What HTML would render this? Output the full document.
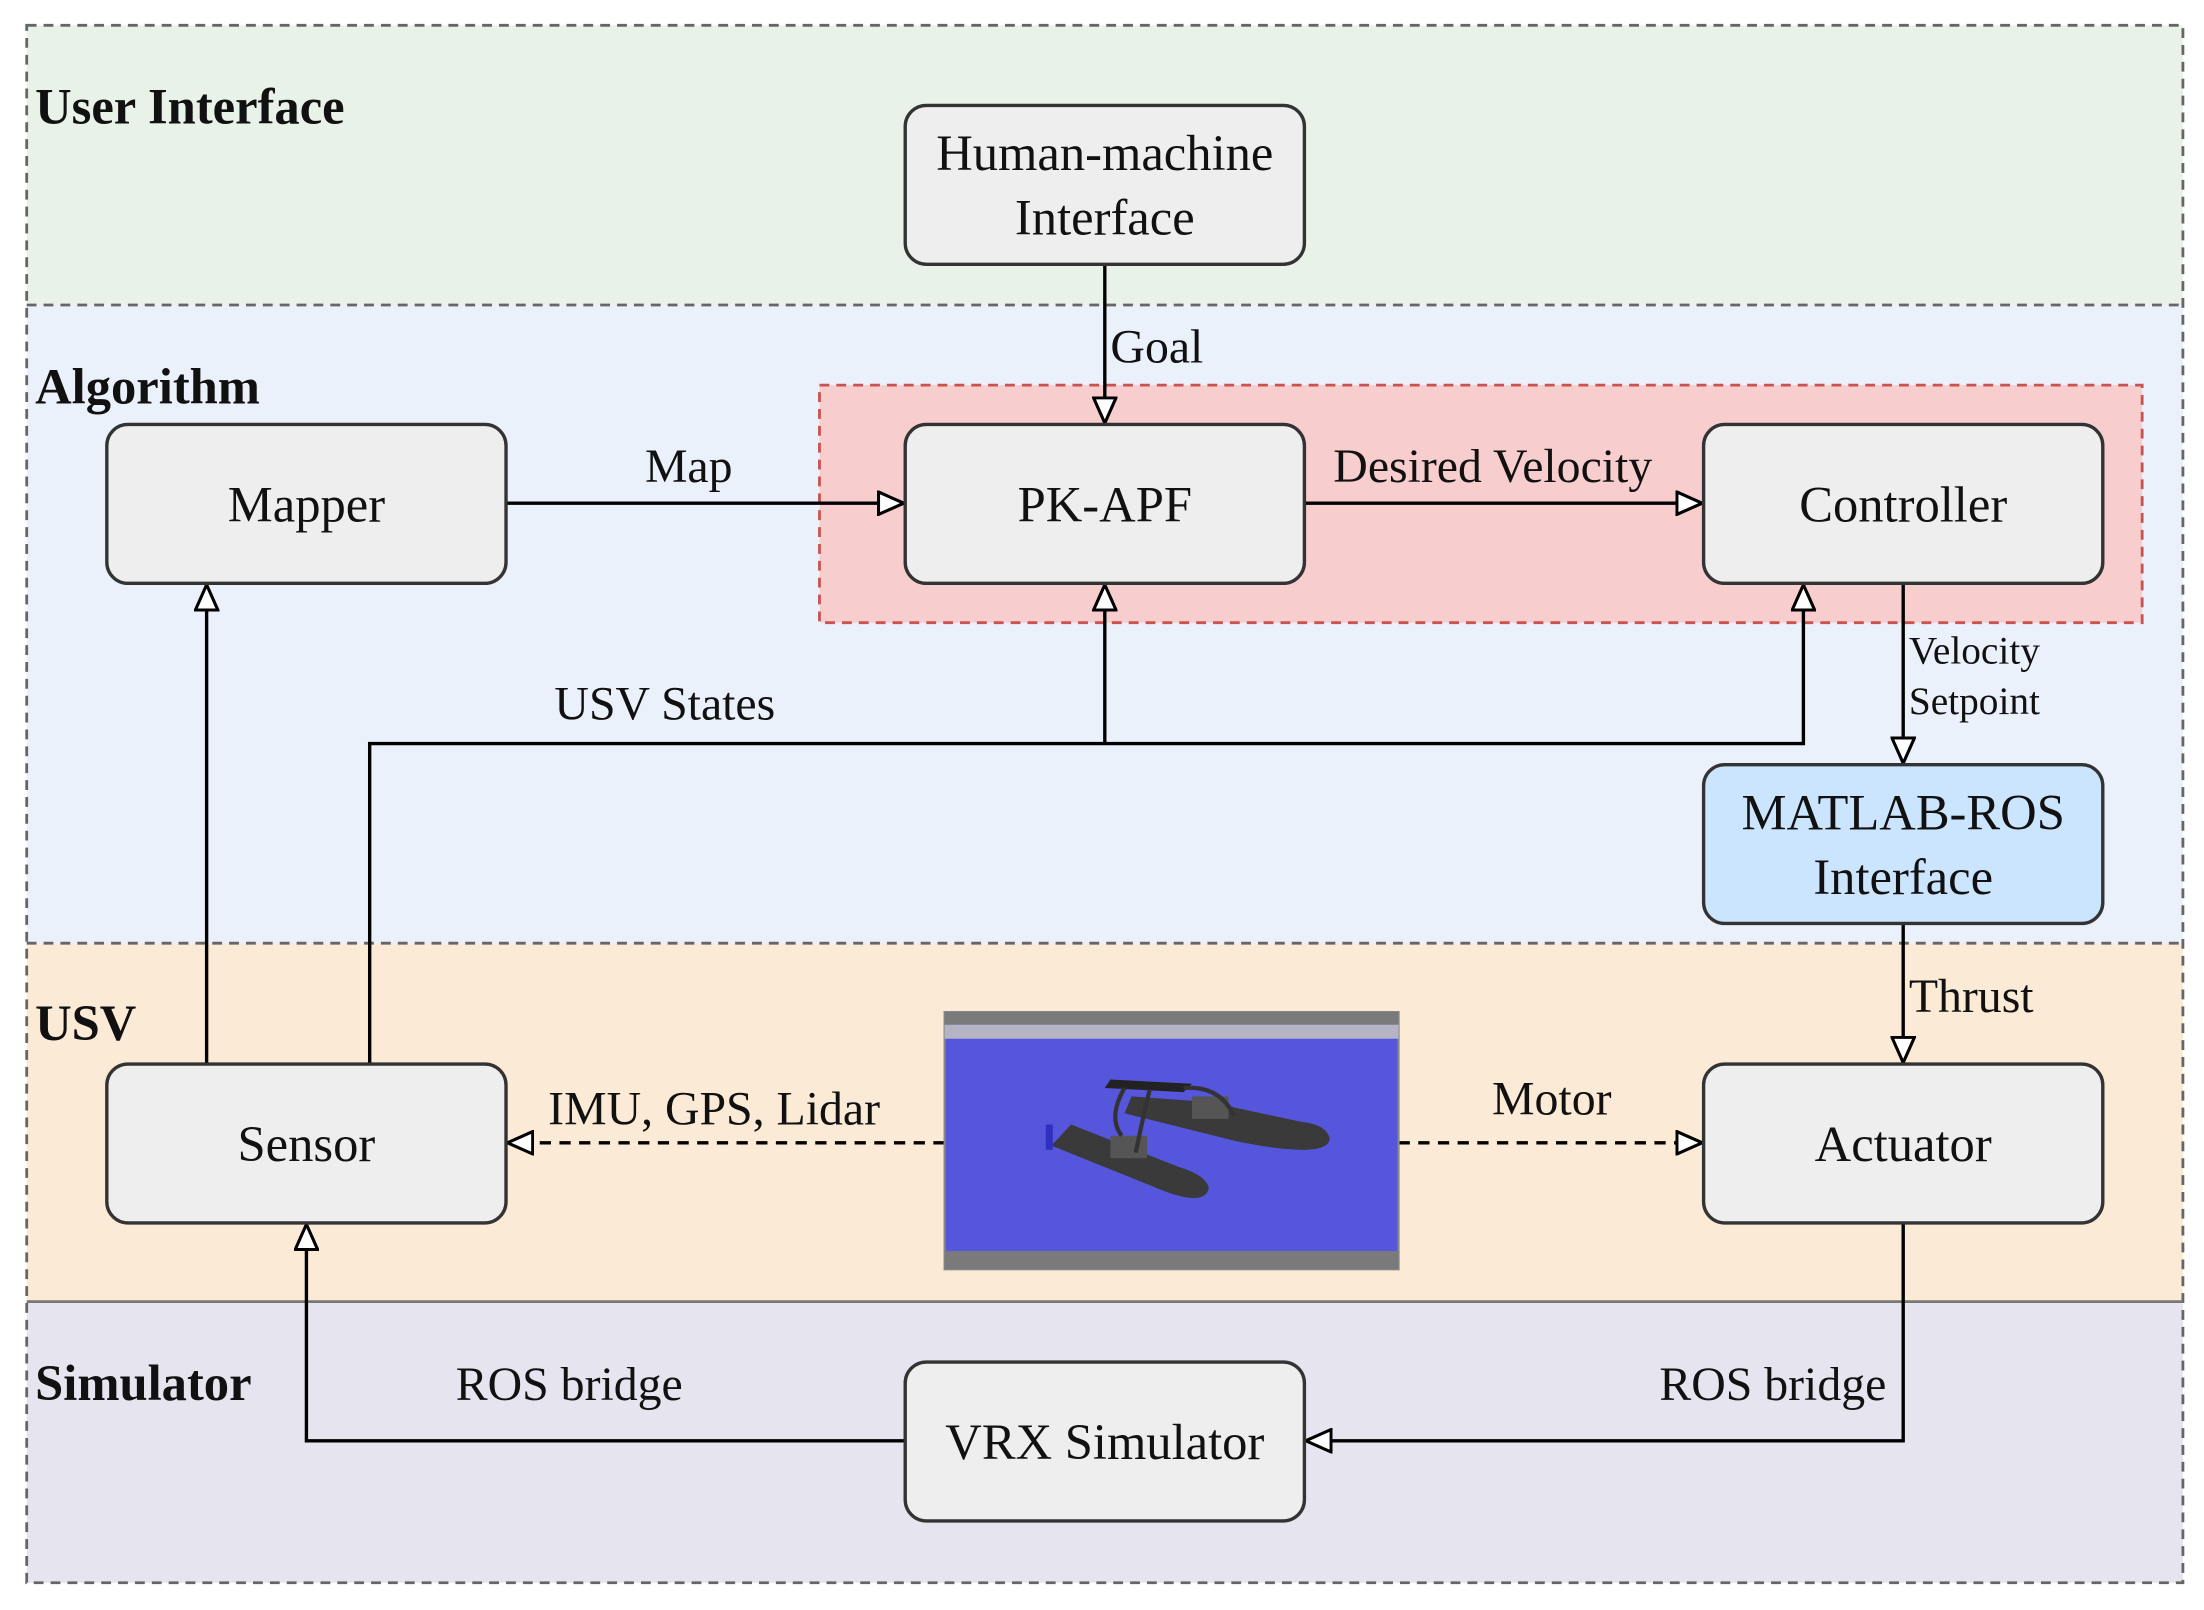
<!DOCTYPE html>
<html><head><meta charset="utf-8"><style>
html,body{margin:0;padding:0;background:#fff;}
svg{display:block;}
svg text{font-family:"Liberation Serif","Times New Roman",serif !important;fill:#111;}
</style></head><body>
<svg width="2204" height="1610" viewBox="0 0 1568 1145.4" preserveAspectRatio="none" xmlns="http://www.w3.org/2000/svg" font-family="Liberation Serif, Times New Roman, serif">
<defs>
<marker id="ah" viewBox="0 0 20 18" refX="19" refY="9" markerWidth="20" markerHeight="18" markerUnits="userSpaceOnUse" orient="auto">
<path d="M1,1 L19,9 L1,17 Z" fill="#fff" stroke="#000" stroke-width="2.2"/>
</marker>
</defs>
<rect x="19" y="18" width="1534" height="199" fill="#e9f2e8"/>
<rect x="19" y="217" width="1534" height="454" fill="#ebf1fb"/>
<rect x="19" y="671" width="1534" height="255" fill="#fbead5"/>
<rect x="19" y="926" width="1534" height="200" fill="#e6e4ef"/>
<g stroke="#666" stroke-width="2" stroke-dasharray="7,5" fill="none">
<rect x="19" y="18" width="1534" height="1108"/>
<line x1="19" y1="217" x2="1553" y2="217"/>
<line x1="19" y1="671" x2="1553" y2="671"/>
</g>
<line x1="19" y1="926" x2="1553" y2="926" stroke="#777" stroke-width="2"/>
<rect x="583" y="274" width="941" height="169" fill="#f7cdcd" stroke="#c9544f" stroke-width="2" stroke-dasharray="7,5"/>
<g font-weight="bold" font-size="36">
<text x="25" y="88">User Interface</text>
<text x="25" y="287">Algorithm</text>
<text x="25" y="740">USV</text>
<text x="25" y="996">Simulator</text>
</g>
<g stroke="#000" stroke-width="2.4" fill="none">
<line x1="786" y1="188" x2="786" y2="301" marker-end="url(#ah)"/>
<line x1="360" y1="358" x2="643" y2="358" marker-end="url(#ah)"/>
<line x1="928" y1="358" x2="1211" y2="358" marker-end="url(#ah)"/>
<line x1="1354" y1="415" x2="1354" y2="543" marker-end="url(#ah)"/>
<line x1="1354" y1="657" x2="1354" y2="756" marker-end="url(#ah)"/>
<line x1="147" y1="757" x2="147" y2="416" marker-end="url(#ah)"/>
<polyline points="263,757 263,529 1283,529 1283,416" marker-end="url(#ah)"/>
<line x1="786" y1="529" x2="786" y2="416" marker-end="url(#ah)"/>
<line x1="672" y1="813" x2="361" y2="813" stroke-dasharray="8,6" marker-end="url(#ah)"/>
<line x1="995" y1="813" x2="1211" y2="813" stroke-dasharray="8,6" marker-end="url(#ah)"/>
<polyline points="1354,870 1354,1025 929,1025" marker-end="url(#ah)"/>
<polyline points="644,1025 218,1025 218,871" marker-end="url(#ah)"/>
</g>
<g stroke="#333" stroke-width="2.4" fill="#eeeeee">
<rect x="644" y="75" width="284" height="113" rx="15"/>
<rect x="76" y="302" width="284" height="113" rx="15"/>
<rect x="644" y="302" width="284" height="113" rx="15"/>
<rect x="1212" y="302" width="284" height="113" rx="15"/>
<rect x="1212" y="544" width="284" height="113" rx="15" fill="#cce5ff"/>
<rect x="76" y="757" width="284" height="113" rx="15"/>
<rect x="1212" y="757" width="284" height="113" rx="15"/>
<rect x="644" y="969" width="284" height="113" rx="15"/>
</g>
<g font-size="36" text-anchor="middle">
<text x="786" y="121">Human-machine</text>
<text x="786" y="167">Interface</text>
<text x="218" y="371">Mapper</text>
<text x="786" y="371">PK-APF</text>
<text x="1354" y="371">Controller</text>
<text x="1354" y="590">MATLAB-ROS</text>
<text x="1354" y="636">Interface</text>
<text x="218" y="826">Sensor</text>
<text x="1354" y="826">Actuator</text>
<text x="786" y="1038">VRX Simulator</text>
</g>
<g font-size="34">
<text x="790" y="258">Goal</text>
<text x="490" y="343" text-anchor="middle">Map</text>
<text x="1062" y="343" text-anchor="middle">Desired Velocity</text>
<text x="473" y="512" text-anchor="middle">USV States</text>
<text x="1358" y="720">Thrust</text>
<text x="390" y="800">IMU, GPS, Lidar</text>
<text x="1104" y="793" text-anchor="middle">Motor</text>
<text x="405" y="996" text-anchor="middle">ROS bridge</text>
<text x="1342" y="996" text-anchor="end">ROS bridge</text>
</g>
<g font-size="28">
<text x="1358" y="472">Velocity</text>
<text x="1358" y="508">Setpoint</text>
</g>
<g>
<rect x="672" y="720" width="323" height="183" fill="#5656dc" stroke="#888" stroke-width="1.5"/>
<rect x="672" y="720" width="323" height="9" fill="#7a7a7a"/>
<rect x="672" y="729" width="323" height="10" fill="#b4b4c4"/>
<rect x="672" y="890" width="323" height="13" fill="#7a7a7a"/>
<path d="M748,815 L830,848 Q858,858 860,845 Q858,836 838,830 L762,800 Z" fill="#3a3a3a"/>
<path d="M800,792 L880,812 Q945,825 946,810 Q944,800 925,798 L860,784 L805,780 Z" fill="#3a3a3a"/>
<rect x="790" y="808" width="26" height="16" fill="#555"/>
<rect x="848" y="780" width="26" height="16" fill="#555"/>
<path d="M790,768 L848,771 L842,777 L786,774 Z" fill="#222"/>
<path d="M800,774 Q788,795 798,808 M842,774 Q868,772 878,794 M818,775 Q812,800 808,820" stroke="#333" stroke-width="3" fill="none"/>
<rect x="744" y="800" width="5" height="18" fill="#3030c0"/>
</g>
</svg>
</body></html>
